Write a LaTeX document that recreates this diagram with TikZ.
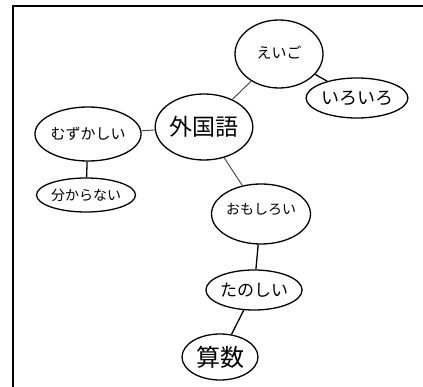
\documentclass[tikz,border=0pt]{standalone}
\usepackage{fontspec}
\newfontfamily\jp{Noto Sans CJK JP}
\usetikzlibrary{shapes.geometric}
\begin{document}
\begin{tikzpicture}[x=1pt,y=-1pt,
  bub/.style={ellipse,draw=black,line width=1.3pt,inner sep=0pt,font=\jp},
  link/.style={draw=black!75,line width=0.9pt},
  boldlink/.style={draw=black,line width=1.3pt}]
\useasboundingbox (0,0) rectangle (423,387);
\draw[line width=2pt] (13,387) -- (13,6) -- (423,6);
\node[bub,minimum width=88pt,minimum height=68pt,font=\jp\fontsize{15}{15}\selectfont] (eigo) at (279,54) {\raisebox{3pt}{えいご}};
\node[bub,minimum width=100pt,minimum height=40pt,font=\jp\fontsize{18}{18}\selectfont] (iroiro) at (357,98) {いろいろ};
\node[bub,minimum width=92pt,minimum height=66pt,font=\jp\fontsize{23}{23}\selectfont] (gaikokugo) at (204,127) {外国語};
\node[bub,minimum width=90pt,minimum height=54pt,font=\jp\fontsize{15}{15}\selectfont] (muzu) at (88,134) {むずかしい};
\node[bub,minimum width=84pt,minimum height=34pt,font=\jp\fontsize{14}{14}\selectfont] (wakara) at (86,195) {分からない};
\node[bub,minimum width=88pt,minimum height=60pt,font=\jp\fontsize{14}{14}\selectfont] (omoshiroi) at (261,214) {\raisebox{10pt}{おもしろい}};
\node[bub,minimum width=94pt,minimum height=40pt,font=\jp\fontsize{17}{17}\selectfont] (tanoshii) at (254,290) {たのしい};
\node[bub,minimum width=76pt,minimum height=46pt,font=\jp\fontsize{24}{24}\selectfont] (sansu) at (220,357) {算数};
\draw[link] (gaikokugo) -- (eigo);
\draw[boldlink] (eigo) -- (iroiro);
\draw[link] (muzu) -- (gaikokugo);
\draw[boldlink] (muzu) -- (wakara);
\draw[link] (gaikokugo) -- (omoshiroi);
\draw[boldlink] (omoshiroi) -- (tanoshii);
\draw[boldlink] (tanoshii) -- (sansu);
\end{tikzpicture}
\end{document}
